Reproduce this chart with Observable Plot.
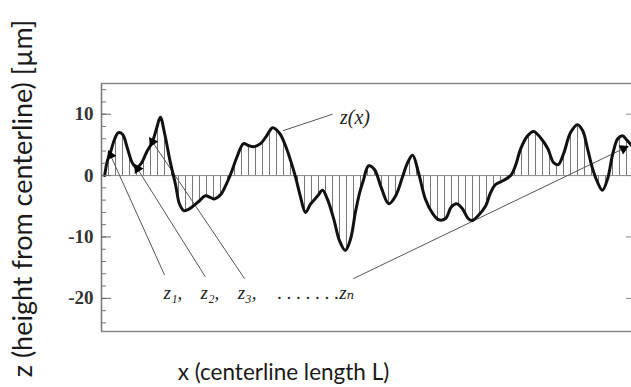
<!DOCTYPE html>
<html><head><meta charset="utf-8">
<script src="https://cdn.jsdelivr.net/npm/d3@7"></script>
<script src="https://cdn.jsdelivr.net/npm/@observablehq/plot@0.6"></script>
<style>html,body{margin:0;padding:0;background:#fff;overflow:hidden}</style>
</head><body><div id="chart"></div>
<script>
// Profile z(x): x along centerline length (0..100 % of L), z in µm
const xs = [0.6,1.1,1.7,2.5,3.2,4.0,4.9,5.8,6.6,7.5,8.5,9.6,10.4,11.1,11.9,13.0,14.0,14.7,15.5,16.4,17.4,18.5,19.6,20.6,21.3,22.5,23.6,24.5,25.5,26.8,27.7,28.7,30.0,31.1,32.3,33.6,34.7,35.7,36.6,37.5,38.5,39.4,40.8,41.7,42.6,43.8,44.9,46.0,47.0,47.9,48.7,49.4,50.4,51.5,52.8,54.2,55.5,56.8,57.7,58.7,59.8,61.1,62.5,63.6,64.9,66.0,67.0,68.1,69.2,70.0,71.1,72.5,73.4,74.3,75.8,77.2,78.1,79.1,80.4,81.5,82.8,84.2,85.3,86.2,87.2,88.5,89.8,90.8,91.7,92.6,93.6,94.5,95.5,96.4,97.4,98.3,99.2,100];
const zs = [0,2.4,3.8,6.0,7.0,6.7,4.4,2.1,1.3,2.0,3.8,5.5,7.7,9.5,6.9,2.1,-1.6,-4.6,-5.7,-5.5,-4.9,-4.1,-3.3,-3.6,-3.8,-3.1,-1.3,0.5,2.9,5.2,4.9,4.7,5.2,6.4,7.8,6.9,4.9,2.4,-0.2,-3.3,-6.0,-4.7,-3.3,-2.4,-3.8,-7.0,-10.6,-12.2,-10.3,-6.0,-2.8,-0.8,1.6,1.0,-2.0,-4.6,-3.3,-0.2,2.0,3.3,0.5,-3.8,-6.2,-7.2,-7.0,-5.1,-4.6,-5.4,-7.0,-7.3,-6.5,-4.9,-2.8,-1.5,-0.8,0,1.6,4.4,6.5,7.2,6.2,4.4,2.1,1.8,3.6,7.0,8.3,7.3,4.4,1.3,-1.1,-2.4,-0.5,3.3,6.0,6.5,5.7,4.9];

const xDomain = [0, 100];
const yDomain = [-25.4, 15];
const yTicks = [-20, -10, 0, 10];
const yMinorTicks = d3.range(-24, 15, 2);

// sample labels z1, z2, z3 ... zn with leader lines
const sampleLabels = ["z\u2081,", "z\u2082,", "z\u2083,", ". . . . . . .z\u2099"];
const labelX = [11.7, 18.7, 25.7, 33.2];
const labelY = -20.1;
const leaderFromX = [11.9, 19.6, 27.0, 47.5];
const leaderFromY = [-16.2, -16.5, -16.8, -16.8];
const leaderToX = [1.7, 6.8, 9.6, 98.5];
const leaderToY = [3.3, 1.1, 5.5, 4.4];

// z(x) callout
const curveLabel = "z(x)";
const curveLabelX = 45.0;
const curveLabelY = 9.5;
const curveLeaderX = [34.2, 43.6];
const curveLeaderY = [7.3, 10.0];

const xTitle = "x (centerline length L)";
const yTitle = "z (height from centerline) [\u00b5m]";

const W = 631, H = 387;
const M = {left: 101, right: 0, top: 83, bottom: 56};

const profile = xs.map((x, i) => ({x, z: zs[i]}));
const sx = d3.scaleLinear(xDomain, [M.left, W - M.right]);
const sy = d3.scaleLinear(yDomain, [H - M.bottom, M.top]);
const leaders = sampleLabels.map((_, i) => {
  const dx = sx(leaderToX[i]) - sx(leaderFromX[i]);
  const dy = sy(leaderToY[i]) - sy(leaderFromY[i]);
  return {x1: leaderFromX[i], y1: leaderFromY[i], x2: leaderToX[i], y2: leaderToY[i],
          angle: Math.atan2(dx, -dy) * 180 / Math.PI};
});
const labels = sampleLabels.map((t, i) => ({t, x: labelX[i], y: labelY}));

const serif = "'Liberation Serif','DejaVu Serif',serif";
const sans = "Lato, 'Open Sans', sans-serif";

const chart = Plot.plot({
  width: W, height: H,
  marginLeft: M.left, marginRight: M.right, marginTop: M.top, marginBottom: M.bottom,
  x: {domain: xDomain, axis: null},
  y: {domain: yDomain, axis: null},
  style: {background: "white", overflow: "visible"},
  marks: [
    Plot.areaY(profile, {x: "x", y: "z", fill: "url(#hatch)", curve: "catmull-rom"}),
    Plot.ruleY([{y: 0, a: xs[0], b: xs[xs.length - 1]}], {y: "y", x1: "a", x2: "b", stroke: "#888", strokeWidth: 1}),
    Plot.link(leaders, {x1: "x1", y1: "y1", x2: "x2", y2: "y2", stroke: "#555", strokeWidth: 1}),
    Plot.link([{x1: curveLeaderX[0], y1: curveLeaderY[0], x2: curveLeaderX[1], y2: curveLeaderY[1]}],
      {x1: "x1", y1: "y1", x2: "x2", y2: "y2", stroke: "#555", strokeWidth: 1}),
    Plot.line(profile, {x: "x", y: "z", stroke: "#111", strokeWidth: 3, curve: "catmull-rom"}),
    Plot.dot(leaders, {x: "x2", y: "y2", symbol: "triangle", r: 3.8, fill: "#000", rotate: "angle"}),
    Plot.text(labels, {x: "x", y: "y", text: "t", textAnchor: "start", lineAnchor: "bottom",
      fontFamily: serif, fontStyle: "italic", fontSize: 19, fill: "#222"}),
    Plot.text([curveLabel], {x: curveLabelX, y: curveLabelY, textAnchor: "start", lineAnchor: "middle",
      fontFamily: serif, fontStyle: "italic", fontSize: 20, fill: "#222"}),
    // frame (left, top, bottom)
    Plot.ruleX([xDomain[0]], {stroke: "#777", strokeWidth: 1.5}),
    Plot.ruleY([yDomain[0], yDomain[1]], {stroke: "#888", strokeWidth: 1.5}),
    // axes
    Plot.axisY({ticks: yMinorTicks, tickSize: -5, text: null, label: null, stroke: "#777"}),
    Plot.axisY({ticks: yTicks, tickSize: -10, tickPadding: 18, label: null, stroke: "#666",
      tickFormat: d => String(d), fontFamily: serif, fontWeight: "bold", fontSize: 19, fill: "#333"}),
    Plot.axisY({anchor: "right", ticks: yTicks, tickSize: -6, text: null, label: null, stroke: "#888"}),
    // titles
    Plot.text([xTitle], {frameAnchor: "bottom", dx: -83, dy: 41, textAnchor: "middle", lineAnchor: "middle",
      fontFamily: sans, fontSize: 22.5, fill: "#1a1a1a"}),
    Plot.text([yTitle], {frameAnchor: "left", dx: -70, dy: -9, rotate: -90, textAnchor: "middle", lineAnchor: "bottom",
      fontFamily: sans, fontSize: 27, fill: "#1a1a1a"})
  ]
});

const ns = "http://www.w3.org/2000/svg";
const defs = document.createElementNS(ns, "defs");
defs.innerHTML = '<pattern id="hatch" patternUnits="userSpaceOnUse" width="7" height="20"><line x1="3.5" y1="0" x2="3.5" y2="20" stroke="#777" stroke-width="1"/></pattern>';
chart.insertBefore(defs, chart.firstChild);
document.getElementById("chart").appendChild(chart);
</script>
</body></html>
